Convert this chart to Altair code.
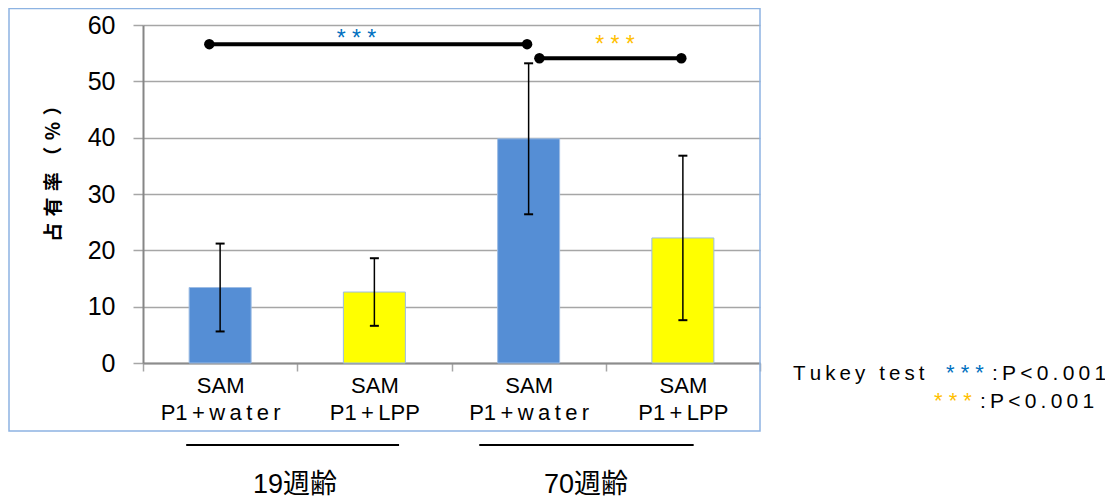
import altair as alt
import pandas as pd

# ---------------- data ----------------
categories = ["a", "b", "c", "d"]
label_top = ["SAM", "SAM", "SAM", "SAM"]
label_bottom = ["P1+water", "P1+LPP", "P1+water", "P1+LPP"]
treatments = ["water", "LPP", "water", "LPP"]
means = [13.4, 12.6, 39.8, 22.2]
sds = [7.8, 6.0, 13.4, 14.6]

y_ticks = [0, 10, 20, 30, 40, 50, 60]
y_title = "占有率（％）"

sig_from = ["a", "c"]
sig_to = ["c", "d"]
sig_y = [56.6, 54.1]
sig_stars = ["* * *", "* * *"]

group_names = ["19週齢", "70週齢"]
group_first = ["a", "c"]
group_last = ["b", "d"]

legend_title = "Tukey test"
legend_stars = ["* * *", "* * *"]
legend_p = [":P<0.001", ":P<0.001"]

# ---------------- style ----------------
BLUE_BAR = "#558ED5"
YELLOW_BAR = "#FFFF00"
STAR_COLORS = ["#0070C0", "#FFC000"]
GRID = "#A6A6A6"
LATIN = "Liberation Sans"
CJK = "Noto Sans CJK JP"
MIXED = "Liberation Sans, Noto Sans CJK JP"
THIN = "\u2009"
W, H = 617, 338


def spaced(s, sep=THIN):
    return sep.join(s)


def spaced_label(s):
    # letter spacing like the original: around symbols and inside lowercase words
    out = ""
    for i, ch in enumerate(s):
        if i > 0:
            p = s[i - 1]
            if (not p.isalnum()) or (not ch.isalnum()) or (p.islower() and ch.islower()):
                out += THIN
        out += ch
    return out


# axis label expressions
parts = []
for c, t, b in zip(categories, label_top, label_bottom):
    parts.append(f"datum.value == '{c}' ? ['{t}', '{spaced_label(b)}']")
x_label_expr = " : ".join(parts) + " : datum.label"

base_df = pd.DataFrame(
    {
        "cat": categories,
        "mean": means,
        "lo": [m - s for m, s in zip(means, sds)],
        "hi": [m + s for m, s in zip(means, sds)],
        "treatment": treatments,
    }
)

x_main = alt.X(
    "cat:N",
    sort=categories,
    scale=alt.Scale(domain=categories, paddingInner=0, paddingOuter=0),
    title=None,
    axis=alt.Axis(
        tickBand="extent",
        tickSize=8,
        tickColor=GRID,
        tickWidth=1.5,
        domainColor="#8C8C8C",
        domainWidth=2,
        labelAngle=0,
        labelFont=LATIN,
        labelFontSize=22,
        labelColor="black",
        labelPadding=4,
        labelLineHeight=27,
        labelBaseline="top",
        labelExpr=x_label_expr,
        grid=False,
    ),
)
y_main = alt.Y(
    "mean:Q",
    scale=alt.Scale(domain=[0, 60], nice=False),
    axis=alt.Axis(
        values=y_ticks,
        grid=True,
        gridColor=GRID,
        gridWidth=1.5,
        domainColor="#868686",
        domainWidth=2,
        tickColor=GRID,
        tickWidth=1.5,
        tickSize=10,
        labelFont=LATIN,
        labelFontSize=25,
        labelColor="black",
        labelPadding=18,
        title=spaced(y_title, "\u2004"),
        titleFont=CJK,
        titleFontSize=19,
        titleFontWeight="bold",
        titleColor="black",
        titleAngle=270,
        titleX=-90,
        titleY=143.5,
        titleAlign="center",
        titleBaseline="middle",
    ),
)

one = pd.DataFrame({"k": [0]})

frame = (
    alt.Chart(one)
    .mark_rect(filled=False, stroke="#8DB3E2", strokeWidth=1.5)
    .encode(x=alt.value(-134), x2=alt.value(W), y=alt.value(-16.5), y2=alt.value(406))
)

bars = (
    alt.Chart(base_df)
    .mark_bar(size=62, stroke="#9DBCE4", strokeWidth=1)
    .encode(
        x=x_main,
        y=y_main,
        color=alt.Color(
            "treatment:N",
            scale=alt.Scale(domain=["water", "LPP"], range=[BLUE_BAR, YELLOW_BAR]),
            legend=None,
        ),
    )
)

x_sec = alt.X("cat:N", sort=categories, axis=None)
err_rule = (
    alt.Chart(base_df)
    .mark_rule(color="black", strokeWidth=1.5)
    .encode(x=x_sec, y=alt.Y("lo:Q", axis=None), y2="hi:Q")
)
cap_hi = (
    alt.Chart(base_df)
    .mark_tick(color="black", size=9, thickness=2, opacity=1)
    .encode(x=x_sec, y=alt.Y("hi:Q", axis=None))
)
cap_lo = (
    alt.Chart(base_df)
    .mark_tick(color="black", size=9, thickness=2, opacity=1)
    .encode(x=x_sec, y=alt.Y("lo:Q", axis=None))
)

layers = [bars, err_rule, cap_hi, cap_lo, frame]

# significance brackets
SIG_BANDS = [(0.43, 0.49), (0.57, 0.49)]
STAR_X = [213.5, 472]
STAR_DY = [2.0, -6.0]
for i in range(len(sig_from)):
    df = pd.DataFrame(
        {"from": [sig_from[i]], "to": [sig_to[i]], "y": [sig_y[i]], "stars": [sig_stars[i]]}
    )
    b0, b1 = SIG_BANDS[i]
    layers.append(
        alt.Chart(df)
        .mark_rule(color="black", strokeWidth=4)
        .encode(
            x=alt.X("from:N", bandPosition=b0, axis=None),
            x2=alt.X2("to:N", bandPosition=b1),
            y=alt.Y("y:Q", axis=None),
        )
    )
    layers.append(
        alt.Chart(df)
        .mark_circle(color="black", opacity=1, size=110)
        .encode(x=alt.X("from:N", bandPosition=b0, axis=None), y=alt.Y("y:Q", axis=None))
    )
    layers.append(
        alt.Chart(df)
        .mark_circle(color="black", opacity=1, size=110)
        .encode(x=alt.X("to:N", bandPosition=b1, axis=None), y=alt.Y("y:Q", axis=None))
    )
    layers.append(
        alt.Chart(df)
        .mark_text(
            font=LATIN,
            fontSize=23,
            color=STAR_COLORS[i],
            align="center",
            baseline="alphabetic",
            dy=STAR_DY[i],
        )
        .encode(x=alt.value(STAR_X[i]), y=alt.Y("y:Q", axis=None), text="stars:N")
    )

# age groups below the axis
GROUP_LINE_BANDS = [(0.28, 0.66), (0.18, 0.57)]
GROUP_LABEL_BANDS = [0.985, 0.872]
for i in range(len(group_names)):
    df = pd.DataFrame(
        {"first": [group_first[i]], "last": [group_last[i]], "name": [group_names[i]]}
    )
    g0, g1 = GROUP_LINE_BANDS[i]
    layers.append(
        alt.Chart(df)
        .mark_rule(color="black", strokeWidth=2)
        .encode(
            x=alt.X("first:N", bandPosition=g0, axis=None),
            x2=alt.X2("last:N", bandPosition=g1),
            y=alt.value(420),
        )
    )
    layers.append(
        alt.Chart(df)
        .mark_text(font=MIXED, fontSize=27, color="black", align="center", baseline="middle")
        .encode(
            x=alt.X("first:N", bandPosition=GROUP_LABEL_BANDS[i], axis=None),
            y=alt.value(460),
            text="name:N",
        )
    )

# Tukey legend text
LEG_Y = [355, 383]
LEG_STAR_X = [803, 791]
LEG_P_X = [849, 837]
layers.append(
    alt.Chart(pd.DataFrame({"t": [spaced(legend_title)]}))
    .mark_text(font=LATIN, fontSize=20.5, color="black", align="left", baseline="alphabetic")
    .encode(x=alt.value(650), y=alt.value(LEG_Y[0]), text="t:N")
)
for i in range(len(legend_p)):
    layers.append(
        alt.Chart(pd.DataFrame({"t": [legend_stars[i]]}))
        .mark_text(font=LATIN, fontSize=22, color=STAR_COLORS[i], align="left", baseline="alphabetic")
        .encode(x=alt.value(LEG_STAR_X[i]), y=alt.value(LEG_Y[i]), text="t:N")
    )
    layers.append(
        alt.Chart(pd.DataFrame({"t": [spaced(legend_p[i])]}))
        .mark_text(font=LATIN, fontSize=21, color="black", align="left", baseline="alphabetic")
        .encode(x=alt.value(LEG_P_X[i]), y=alt.value(LEG_Y[i]), text="t:N")
    )

chart = (
    alt.layer(*layers)
    .resolve_axis(x="independent", y="independent")
    .properties(
        width=W,
        height=H,
        padding={"left": 135, "top": 17, "right": 345, "bottom": 138},
        autosize=alt.AutoSizeParams(type="none"),
        background="white",
    )
    .configure_view(strokeWidth=0)
)

chart.save("out.html", embed_options={"renderer": "svg", "actions": False})
